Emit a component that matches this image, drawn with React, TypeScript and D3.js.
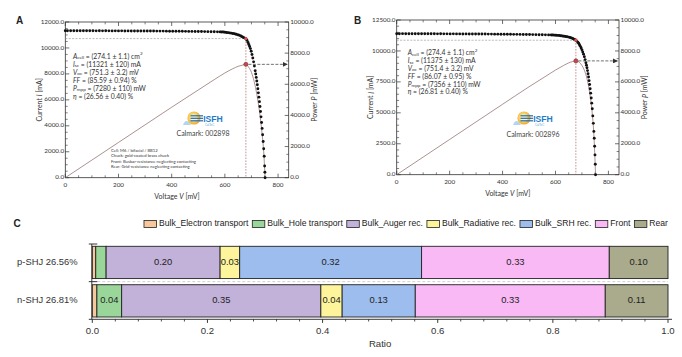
import React from 'react';
import * as d3 from 'd3';

// ---------------- Panel A data (V in mV, I in mA) ----------------
const ivPointsA: [number, number][] = [
  [0, 11330], [8, 11328], [20, 11326], [32, 11330], [44, 11325], [56, 11323], [68, 11327], [80, 11322],
  [92, 11320], [104, 11324], [116, 11319], [128, 11321], [140, 11318], [152, 11322], [164, 11317], [176, 11315],
  [188, 11319], [200, 11314], [212, 11316], [224, 11312], [236, 11315], [248, 11310], [260, 11312], [272, 11308],
  [284, 11306], [296, 11309], [308, 11304], [320, 11302], [332, 11305], [344, 11300], [356, 11297], [368, 11299],
  [380, 11294], [392, 11292], [404, 11290], [416, 11288], [428, 11285], [440, 11283], [452, 11280], [464, 11277],
  [476, 11274], [488, 11270], [500, 11267], [512, 11263], [524, 11259], [536, 11255], [548, 11250], [560, 11246],
  [572, 11241], [582, 11236], [588, 11232],
  [594, 11225], [600, 11210], [606, 11195], [612, 11180], [618, 11160], [624, 11140], [630, 11115], [636, 11090],
  [642, 11060], [648, 11020], [654, 10975], [660, 10920], [665, 10865], [670, 10805], [675, 10760], [679, 10720],
  [683, 10590], [687, 10420], [690, 10270], [693, 10110], [696, 9950], [699, 9740], [702, 9500], [705, 9230],
  [708, 8930], [711, 8600], [714, 8240], [716, 7990], [718, 7730], [720, 7450], [722, 7160], [724, 6860],
  [726, 6540], [728, 6210], [730, 5860], [732, 5490], [734, 5100], [736, 4690], [738, 4260], [740, 3800],
  [742, 3310], [744, 2790], [746, 2230], [748, 1650], [749.5, 900], [750.5, 420], [751.3, 0],
];
const powerVoltageA = [0, 100, 200, 300, 400, 500, 560, 600, 630, 650, 665, 679, 690, 700, 710, 720, 730, 740, 746, 751.3];
const powerA = [0, 1132, 2264, 3395, 4525, 5634, 6298, 6726, 7002, 7153, 7225, 7280, 7086, 6762, 6184, 5364, 4278, 2812, 1664, 0];
const mppA = { v: 679, i: 10720, p: 7280 };
const statsA = ['(274.1 ± 1.1) cm', '(11321 ± 120) mA', '(751.3 ± 3.2) mV', '(85.59 ± 0.94) %', '(7280 ± 110) mW', '(26.56 ± 0.40) %'];
const calmarkA = 'Calmark: 002898';
const cellNotesA = [
  'Cell: M6 / bifacial / BB12',
  'Chuck: gold-coated brass chuck',
  'Front: Busbar-resistance neglecting contacting',
  'Rear: Grid-resistance neglecting contacting',
];

// ---------------- Panel B data ----------------
const ivPointsB: [number, number][] = [
  [0, 11395], [10, 11392], [22, 11396], [34, 11390], [46, 11393], [58, 11389], [70, 11391], [82, 11387],
  [94, 11390], [106, 11386], [118, 11388], [130, 11384], [142, 11386], [154, 11382], [166, 11384], [178, 11380],
  [190, 11382], [202, 11378], [214, 11380], [226, 11376], [238, 11377], [250, 11373], [262, 11375], [274, 11371],
  [286, 11372], [298, 11368], [310, 11369], [322, 11365], [334, 11366], [346, 11362], [358, 11360], [370, 11358],
  [382, 11356], [394, 11353], [406, 11351], [418, 11348], [430, 11345], [442, 11342], [454, 11339], [466, 11336],
  [478, 11332], [490, 11329], [502, 11325], [514, 11321], [526, 11317], [538, 11312], [550, 11307], [562, 11302],
  [574, 11296], [584, 11290], [590, 11284],
  [596, 11276], [602, 11266], [608, 11255], [614, 11242], [620, 11228], [626, 11212], [632, 11193], [638, 11172],
  [644, 11147], [650, 11118], [655, 11090], [660, 11052], [665, 11005], [670, 10950], [674, 10905], [677, 10866],
  [681, 10790], [685, 10690], [688, 10600], [691, 10490], [694, 10370], [697, 10240], [700, 10090], [703, 9920],
  [706, 9740], [709, 9530], [712, 9300], [715, 9040], [717, 8850], [719, 8640], [721, 8410], [723, 8160],
  [725, 7890], [727, 7600], [729, 7290], [731, 6950], [733, 6590], [735, 6200], [737, 5780], [739, 5330],
  [741, 4750], [743, 4150], [745, 3500], [746.5, 2950], [748, 2300], [749.3, 1600], [750.4, 850], [751.4, 0],
];
const powerVoltageB = [0, 100, 200, 300, 400, 500, 560, 600, 630, 650, 665, 677, 691, 700, 709, 719, 729, 739, 745, 751.4];
const powerB = [0, 1139, 2277, 3414, 4550, 5683, 6329, 6763, 7055, 7227, 7318, 7356, 7249, 7063, 6757, 6212, 5314, 3939, 2608, 0];
const mppB = { v: 677, i: 10866, p: 7356 };
const statsB = ['(274.4 ± 1.1) cm', '(11375 ± 130) mA', '(751.4 ± 3.2) mV', '(86.07 ± 0.95) %', '(7356 ± 110) mW', '(26.81 ± 0.40) %'];
const calmarkB = 'Calmark: 002896';

// ---------------- Panel C data ----------------
const lossNames = ['Bulk_Electron transport', 'Bulk_Hole transport', 'Bulk_Auger rec.', 'Bulk_Radiative rec.', 'Bulk_SRH rec.', 'Front', 'Rear'];
const cellLabels = ['p-SHJ 26.56%', 'n-SHJ 26.81%'];
const pSHJRatios = [0.006, 0.018, 0.198, 0.034, 0.316, 0.326, 0.102];
const nSHJRatios = [0.008, 0.043, 0.346, 0.037, 0.127, 0.330, 0.109];
const ratioTicks = [0, 0.2, 0.4, 0.6, 0.8, 1.0];

const lossColors = ['#F7C89D', '#9AD69A', '#C2B1D8', '#FDF49B', '#9CBDEE', '#F9B9F5', '#AAAA8C'];

const LATO = 'Lato, "Open Sans", sans-serif';
const ARIAL = '"Liberation Sans", Arial, sans-serif';

type Cfg = {
  label: string; labelX: number; labelY: number;
  left: number; right: number; top: number; bottom: number;
  iMax: number; iStep: number;
  statX: number; statY: number; statDy: number;
  sunX: number; sunY: number; calX: number; calY: number;
  id: string;
};

function StatLine({ k, x, y, val }: { k: number; x: number; y: number; val: string }) {
  const sub = 4.6;
  const fs = 6.8;
  const common = { x, y, fontSize: fs, fill: '#333', fontFamily: LATO, dominantBaseline: 'middle' as const };
  if (k === 0)
    return (
      <text {...common}>
        <tspan fontStyle="italic">A</tspan>
        <tspan fontSize={sub} dy={1.4}>cell</tspan>
        <tspan dy={-1.4}>{' = ' + val}</tspan>
        <tspan fontSize={sub} dy={-2.4}>2</tspan>
      </text>
    );
  if (k === 1 || k === 2 || k === 4) {
    const sym = k === 1 ? 'I' : k === 2 ? 'V' : 'P';
    const s = k === 1 ? 'sc' : k === 2 ? 'oc' : 'mpp';
    return (
      <text {...common}>
        <tspan fontStyle="italic">{sym}</tspan>
        <tspan fontSize={sub} dy={1.4}>{s}</tspan>
        <tspan dy={-1.4}>{' = ' + val}</tspan>
      </text>
    );
  }
  const sym = k === 3 ? 'FF' : 'η';
  return (
    <text {...common}>
      <tspan fontStyle="italic">{sym}</tspan>
      <tspan>{' = ' + val}</tspan>
    </text>
  );
}

function Logo({ x, y, id }: { x: number; y: number; id: string }) {
  return (
    <g>
      <defs>
        <radialGradient id={'sun' + id} cx="0.45" cy="0.45" r="0.6">
          <stop offset="0" stopColor="#fff4c8" />
          <stop offset="0.55" stopColor="#f9cf5a" />
          <stop offset="1" stopColor="#ee9a2c" />
        </radialGradient>
      </defs>
      <path d={`M${x - 11},${y + 7} Q${x - 8},${y - 1} ${x - 3},${y + 7} Z`} fill="#a9d0ee" opacity={0.9} />
      <circle cx={x} cy={y} r={6.6} fill={`url(#sun${id})`} />
      <circle cx={x} cy={y} r={3.6} fill="#fdf6dc" opacity={0.8} />
      {[-2.2, 0.3, 2.8].map((d, k) => (
        <line key={k} x1={x - 3.5} x2={x + 9} y1={y + d} y2={y + d} stroke="#1b6db3" strokeWidth={1.2} />
      ))}
      <text x={x + 9.2} y={y + 3.8} fontSize={8.6} fontWeight="bold" fill="#1f7cc4" fontFamily={ARIAL}>ISFH</text>
      <text x={x + 11} y={y + 8.2} fontSize={2.8} fill="#5aa8da" fontFamily={ARIAL}>CalTeC</text>
    </g>
  );
}

function IVPanel({ cfg, iv, pv, pp, mpp, stats, calmark, notes }: {
  cfg: Cfg; iv: [number, number][]; pv: number[]; pp: number[];
  mpp: { v: number; i: number; p: number }; stats: string[]; calmark: string; notes?: string[];
}) {
  const x = d3.scaleLinear().domain([0, 840]).range([cfg.left, cfg.right]);
  const yI = d3.scaleLinear().domain([0, cfg.iMax]).range([cfg.bottom, cfg.top]);
  const yP = d3.scaleLinear().domain([0, 10000]).range([cfg.bottom, cfg.top]);
  const xMajor = d3.range(0, 801, 200);
  const xMinor = d3.range(0, 841, 50).filter((v) => v % 200 !== 0);
  const iMajor = d3.range(0, cfg.iMax + 1, cfg.iStep);
  const iMinor = d3.range(0, cfg.iMax + 1, 500).filter((v) => v % cfg.iStep !== 0);
  const pMajor = d3.range(0, 10001, 2000);
  const pMinor = d3.range(0, 10001, 500).filter((v) => v % 2000 !== 0);
  const powerPath = d3
    .line<number>()
    .x((_, k) => x(pv[k]))
    .y((d) => yP(d))
    .curve(d3.curveMonotoneX)(pp) as string;
  const tk = '#333';
  const maj = 4;
  const mnr = 2.4;
  const cy = (cfg.top + cfg.bottom) / 2;
  return (
    <g>
      <defs>
        <marker id={'arr' + cfg.id} markerUnits="userSpaceOnUse" markerWidth={5} markerHeight={5} refX={4.5} refY={2.5} orient="auto">
          <path d="M0,0 L5,2.5 L0,5 Z" fill="#333" />
        </marker>
      </defs>
      {/* ticks */}
      {xMajor.map((v) => (
        <g key={'xm' + v}>
          <line x1={x(v)} x2={x(v)} y1={cfg.bottom} y2={cfg.bottom - maj} stroke={tk} strokeWidth={0.7} />
          <line x1={x(v)} x2={x(v)} y1={cfg.top} y2={cfg.top + maj} stroke={tk} strokeWidth={0.7} />
          <text x={x(v)} y={cfg.bottom + 9} fontSize={6.3} textAnchor="middle" fill="#333" fontFamily={LATO}>{v}</text>
        </g>
      ))}
      {xMinor.map((v) => (
        <g key={'xn' + v}>
          <line x1={x(v)} x2={x(v)} y1={cfg.bottom} y2={cfg.bottom - mnr} stroke={tk} strokeWidth={0.6} />
          <line x1={x(v)} x2={x(v)} y1={cfg.top} y2={cfg.top + mnr} stroke={tk} strokeWidth={0.6} />
        </g>
      ))}
      {iMajor.map((v) => (
        <g key={'im' + v}>
          <line x1={cfg.left} x2={cfg.left + maj} y1={yI(v)} y2={yI(v)} stroke={tk} strokeWidth={0.7} />
          <text x={cfg.left - 1.2} y={yI(v)} fontSize={6.3} textAnchor="end" dominantBaseline="middle" fill="#333" fontFamily={LATO}>{v.toFixed(1)}</text>
        </g>
      ))}
      {iMinor.map((v) => (
        <line key={'in' + v} x1={cfg.left} x2={cfg.left + mnr} y1={yI(v)} y2={yI(v)} stroke={tk} strokeWidth={0.6} />
      ))}
      {pMajor.map((v) => (
        <g key={'pm' + v}>
          <line x1={cfg.right} x2={cfg.right - maj} y1={yP(v)} y2={yP(v)} stroke={tk} strokeWidth={0.7} />
          <text x={cfg.right + 1.5} y={yP(v)} fontSize={6.3} textAnchor="start" dominantBaseline="middle" fill="#333" fontFamily={LATO}>{v.toFixed(1)}</text>
        </g>
      ))}
      {pMinor.map((v) => (
        <line key={'pn' + v} x1={cfg.right} x2={cfg.right - mnr} y1={yP(v)} y2={yP(v)} stroke={tk} strokeWidth={0.6} />
      ))}
      <rect x={cfg.left} y={cfg.top} width={cfg.right - cfg.left} height={cfg.bottom - cfg.top} fill="none" stroke="#333" strokeWidth={0.8} />

      {/* guide lines */}
      <line x1={cfg.left} x2={x(mpp.v)} y1={yI(mpp.i)} y2={yI(mpp.i)} stroke="#8a8a8a" strokeWidth={0.6} strokeDasharray="2,1.4" />
      <line x1={x(mpp.v)} x2={x(mpp.v)} y1={yI(mpp.i)} y2={cfg.bottom} stroke="#9a4a4a" strokeWidth={0.6} strokeDasharray="1.6,1.3" />

      {/* power curve */}
      <path d={powerPath} fill="none" stroke="#8a6262" strokeWidth={0.7} />

      {/* IV dots */}
      {iv.map(([v, i], k) => (
        <circle key={k} cx={x(v)} cy={yI(i)} r={1.45} fill="#111" />
      ))}

      {/* MPP markers */}
      <circle cx={x(mpp.v)} cy={yI(mpp.i)} r={1.6} fill="#d9534f" />
      <line x1={x(mpp.v) + 2.5} x2={cfg.right - 1.5} y1={yP(mpp.p)} y2={yP(mpp.p)} stroke="#333" strokeWidth={0.7} strokeDasharray="3,1.5" markerEnd={`url(#arr${cfg.id})`} />
      <circle cx={x(mpp.v)} cy={yP(mpp.p)} r={2.1} fill="#c9474a" stroke="#6a2a2a" strokeWidth={0.5} />

      {/* axis titles */}
      <text x={cfg.labelX} y={cfg.labelY} fontSize={10} fontWeight="bold" fill="#222" fontFamily={ARIAL} dominantBaseline="middle" textAnchor="middle">{cfg.label}</text>
      <text transform={`translate(${cfg.left - 25},${cy}) rotate(-90)`} fontSize={7} textAnchor="middle" dominantBaseline="middle" fill="#333" fontFamily={LATO}>
        Current <tspan fontStyle="italic">I</tspan> [mA]
      </text>
      <text transform={`translate(${cfg.right + 26.5},${cy}) rotate(-90)`} fontSize={7} textAnchor="middle" dominantBaseline="middle" fill="#333" fontFamily={LATO}>
        Power <tspan fontStyle="italic">P</tspan> [mW]
      </text>
      <text x={(cfg.left + cfg.right) / 2} y={cfg.bottom + 21} fontSize={7} textAnchor="middle" fill="#333" fontFamily={LATO}>
        Voltage <tspan fontStyle="italic">V</tspan> [mV]
      </text>

      {/* stats */}
      {stats.map((s, k) => (
        <StatLine key={k} k={k} x={cfg.statX} y={cfg.statY + k * cfg.statDy} val={s} />
      ))}

      <Logo x={cfg.sunX} y={cfg.sunY} id={cfg.id} />
      <text x={cfg.calX} y={cfg.calY} fontSize={7} textAnchor="middle" dominantBaseline="middle" fill="#444" fontFamily={LATO}>{calmark}</text>
      {notes &&
        notes.map((n, k) => (
          <text key={k} x={111} y={151 + k * 5.3} fontSize={4.2} fill="#333" fontFamily={LATO} dominantBaseline="middle">{n}</text>
        ))}
    </g>
  );
}

function PanelC() {
  const left = 92.3;
  const right = 668;
  const top = 244;
  const bottom = 319.3;
  const x = d3.scaleLinear().domain([0, 1]).range([left, right]);
  const y = d3.scaleBand<string>().domain(cellLabels).range([top, bottom]).paddingInner(0.16).paddingOuter(0.06);
  const rows = [pSHJRatios, nSHJRatios].map((vals, r) => {
    const o: Record<string, number | string> = { cell: cellLabels[r] };
    lossNames.forEach((n, k) => (o[n] = vals[k]));
    return o;
  });
  const stacked = d3.stack<Record<string, number | string>>().keys(lossNames)(rows as any);
  const minor = d3.range(0, 1.0001, 0.04).filter((v) => Math.abs(v / 0.2 - Math.round(v / 0.2)) > 1e-6);

  // legend layout
  const legendFont = 8.6;
  let widths: number[] = lossNames.map((n) => n.length * legendFont * 0.5);
  if (typeof document !== 'undefined') {
    const ctx = document.createElement('canvas').getContext('2d');
    if (ctx) {
      ctx.font = `${legendFont}px "Liberation Sans", Arial, sans-serif`;
      widths = lossNames.map((n) => ctx.measureText(n).width);
    }
  }
  const sw = 12.5;
  const swGap = 2.5;
  const itemGap = 4;
  const total = d3.sum(widths) + lossNames.length * (sw + swGap) + (lossNames.length - 1) * itemGap;
  let lx = right - total;
  const legendY = 224;
  const legendItems = lossNames.map((n, k) => {
    const item = { n, x: lx, c: lossColors[k] };
    lx += sw + swGap + widths[k] + itemGap;
    return item;
  });
  const sep = (y(cellLabels[0])! + y.bandwidth() + y(cellLabels[1])!) / 2;

  return (
    <g fontFamily={ARIAL}>
      <text x={17} y={legendY} fontSize={10} fontWeight="bold" fill="#222" dominantBaseline="middle" textAnchor="middle">C</text>
      {legendItems.map((it) => (
        <g key={it.n}>
          <rect x={it.x} y={legendY - 3.6} width={sw} height={7.2} fill={it.c} stroke="#222" strokeWidth={0.8} />
          <text x={it.x + sw + swGap} y={legendY} fontSize={legendFont} fill="#222" dominantBaseline="middle">{it.n}</text>
        </g>
      ))}

      <line x1={left} x2={right} y1={sep} y2={sep} stroke="#c4c4c4" strokeWidth={0.8} strokeDasharray="3,2" />

      {stacked.map((layer, k) =>
        layer.map((seg, r) => {
          const x0 = x(seg[0]);
          const x1 = x(seg[1]);
          const yy = y(cellLabels[r])!;
          const v = seg[1] - seg[0];
          return (
            <g key={k + '-' + r}>
              <rect x={x0} y={yy} width={x1 - x0} height={y.bandwidth()} fill={lossColors[k]} stroke="#222" strokeWidth={0.9} />
              {v >= 0.03 && (
                <text x={(x0 + x1) / 2} y={yy + y.bandwidth() / 2} fontSize={9.4} fill="#222" textAnchor="middle" dominantBaseline="middle">
                  {v.toFixed(2)}
                </text>
              )}
            </g>
          );
        })
      )}

      {/* category axis */}
      <line x1={left - 0.5} x2={left - 0.5} y1={top} y2={bottom} stroke="#222" strokeWidth={0.9} />
      {[top, sep].map((t, k) => (
        <line key={k} x1={left - 3.5} x2={left + 5} y1={t} y2={t} stroke="#222" strokeWidth={0.9} />
      ))}
      {cellLabels.map((c) => (
        <text key={c} x={77.5} y={y(c)! + y.bandwidth() / 2} fontSize={9.4} fill="#333" textAnchor="end" dominantBaseline="middle">{c}</text>
      ))}

      {/* ratio axis */}
      <line x1={left - 3.5} x2={right + 4} y1={bottom} y2={bottom} stroke="#222" strokeWidth={0.9} />
      {ratioTicks.map((t) => (
        <g key={t}>
          <line x1={x(t)} x2={x(t)} y1={bottom} y2={bottom + 3.6} stroke="#222" strokeWidth={0.9} />
          <text x={x(t)} y={bottom + 12.3} fontSize={9.6} fill="#333" textAnchor="middle" dominantBaseline="middle">{t.toFixed(1)}</text>
        </g>
      ))}
      {minor.map((t) => (
        <line key={t} x1={x(t)} x2={x(t)} y1={bottom} y2={bottom + 2.2} stroke="#222" strokeWidth={0.8} />
      ))}
      <text x={(left + right) / 2} y={bottom + 25} fontSize={9.6} fill="#333" textAnchor="middle" dominantBaseline="middle">Ratio</text>
    </g>
  );
}

const cfgA: Cfg = {
  id: 'A', label: 'A', labelX: 19.5, labelY: 21,
  left: 65.3, right: 288.7, top: 22, bottom: 177.7,
  iMax: 12000, iStep: 2000,
  statX: 73, statY: 56.5, statDy: 8,
  sunX: 194, sunY: 118, calX: 203, calY: 134.5,
};
const cfgB: Cfg = {
  id: 'B', label: 'B', labelX: 357.5, labelY: 21,
  left: 396.7, right: 619, top: 20, bottom: 174.7,
  iMax: 12500, iStep: 2500,
  statX: 407.7, statY: 53.3, statDy: 7.8,
  sunX: 524, sunY: 118, calX: 533, calY: 135.5,
};

export default function App() {
  return (
    <svg width={682} height={357} style={{ position: 'absolute', left: 0, top: 0, background: '#fff' }}>
      <rect x={0} y={0} width={682} height={357} fill="#fff" />
      <IVPanel cfg={cfgA} iv={ivPointsA} pv={powerVoltageA} pp={powerA} mpp={mppA} stats={statsA} calmark={calmarkA} notes={cellNotesA} />
      <IVPanel cfg={cfgB} iv={ivPointsB} pv={powerVoltageB} pp={powerB} mpp={mppB} stats={statsB} calmark={calmarkB} />
      <PanelC />
    </svg>
  );
}
